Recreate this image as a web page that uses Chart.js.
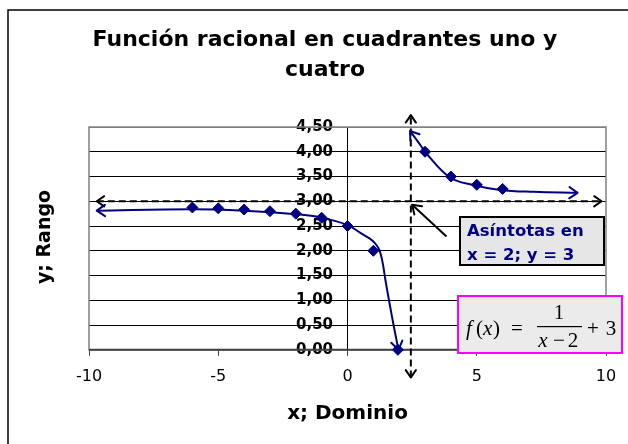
<!DOCTYPE html>
<html>
<head>
<meta charset="utf-8">
<title>Función racional en cuadrantes uno y cuatro</title>
<script src="https://cdn.jsdelivr.net/npm/chart.js@4.4.1/dist/chart.umd.min.js"></script>
<style>
  html, body { margin: 0; padding: 0; background: #fff; }
  #wrap { width: 628px; height: 444px; }
</style>
</head>
<body>
<div id="wrap"><canvas id="grafica"></canvas></div>
<script>
// puntos de f(x) = 1/(x-2) + 3
var puntosX = [-6, -5, -4, -3, -2, -1, 0, 1, 1.95, 3, 4, 5, 6];
var puntosY = [2.875, 2.857, 2.833, 2.8, 2.75, 2.667, 2.5, 2, 0, 4, 3.5, 3.333, 3.25];

// curvas dibujadas a mano (rama izquierda y derecha)
var ramaIzqX = [-9.7, -6, -4, -2, -1, 0, 0.5, 0.85, 1.05, 1.2, 1.3, 1.38, 1.47, 1.64, 1.8, 1.97];
var ramaIzqY = [2.81, 2.84, 2.81, 2.74, 2.67, 2.52, 2.36, 2.25, 2.16, 2.05, 1.9, 1.7, 1.4, 0.9, 0.45, 0];
var ramaDerX = [2.42, 2.8, 3.06, 3.97, 4.86, 5.9, 7.2, 8.9];
var ramaDerY = [4.42, 4.15, 3.96, 3.48, 3.33, 3.23, 3.19, 3.17];

// asintotas
var asintotaHX = [-9.7, 9.83];
var asintotaHY = [3, 3];
var asintotaVX = [2.45, 2.45];
var asintotaVY = [-0.56, 4.74];

// flecha que sale del cuadro de texto
var flechaX = [3.83, 2.5];
var flechaY = [2.29, 2.93];

var ejeXMin = -10, ejeXMax = 10, ejeXPaso = 5;
var ejeYMin = 0, ejeYMax = 4.5, ejeYPaso = 0.5;
var ejeYRotulosEn = -0.56;   // los rotulos del eje y quedan a la izquierda de x = 0

function pares(xs, ys) {
  return xs.map(function (x, i) { return { x: x, y: ys[i] }; });
}

var azul = '#000080';
var dejavu = '"DejaVu Sans", Verdana, sans-serif';

function chevron(ctx, tx, ty, fx, fy, len, color, width) {
  var ang = Math.atan2(ty - fy, tx - fx);
  var ab = 0.6;
  ctx.save();
  ctx.setLineDash([]);
  ctx.strokeStyle = color;
  ctx.lineWidth = width;
  ctx.lineCap = 'round';
  ctx.lineJoin = 'round';
  ctx.beginPath();
  ctx.moveTo(tx - len * Math.cos(ang - ab), ty - len * Math.sin(ang - ab));
  ctx.lineTo(tx, ty);
  ctx.lineTo(tx - len * Math.cos(ang + ab), ty - len * Math.sin(ang + ab));
  ctx.stroke();
  ctx.restore();
}

var fondo = {
  id: 'fondo',
  beforeDraw: function (chart) {
    var ctx = chart.ctx;
    ctx.save();
    ctx.fillStyle = '#fff';
    ctx.fillRect(0, 0, chart.width, chart.height);
    ctx.strokeStyle = '#000';
    ctx.lineWidth = 1.5;
    ctx.beginPath();
    ctx.moveTo(8, chart.height + 2);
    ctx.lineTo(8, 10);
    ctx.lineTo(chart.width + 2, 10);
    ctx.stroke();
    ctx.restore();
  },
  beforeDatasetsDraw: function (chart) {
    var a = chart.chartArea, ctx = chart.ctx;
    ctx.save();
    ctx.strokeStyle = '#808080';
    ctx.lineWidth = 1.5;
    ctx.strokeRect(a.left, a.top, a.right - a.left, a.bottom - a.top);
    ctx.strokeStyle = '#404040';
    ctx.lineWidth = 2;
    ctx.beginPath();
    ctx.moveTo(a.left, a.bottom);
    ctx.lineTo(a.right, a.bottom);
    ctx.stroke();
    ctx.restore();
  }
};

var flechas = {
  id: 'flechas',
  afterDatasetsDraw: function (chart) {
    var ctx = chart.ctx;
    chart.data.datasets.forEach(function (ds, i) {
      if (!ds.flechas) return;
      var pts = chart.getDatasetMeta(i).data;
      var n = pts.length;
      var color = ds.borderColor, w = ds.borderWidth;
      if (ds.flechas.indexOf('inicio') >= 0) {
        var p0 = pts[0], r0 = pts[1];
        if (p0.cp2x !== undefined && (Math.abs(p0.cp2x - p0.x) + Math.abs(p0.cp2y - p0.y)) > 0.5) {
          r0 = { x: p0.cp2x, y: p0.cp2y };
        }
        chevron(ctx, p0.x, p0.y, r0.x, r0.y, ds.largo || 9, color, w);
      }
      if (ds.flechas.indexOf('fin') >= 0) {
        var p1 = pts[n - 1], r1 = pts[n - 2];
        if (p1.cp1x !== undefined && (Math.abs(p1.cp1x - p1.x) + Math.abs(p1.cp1y - p1.y)) > 0.5) {
          r1 = { x: p1.cp1x, y: p1.cp1y };
        }
        chevron(ctx, p1.x, p1.y, r1.x, r1.y, ds.largo || 9, color, w);
      }
    });
  }
};

var rotulos = {
  id: 'rotulos',
  afterDraw: function (chart) {
    var ctx = chart.ctx;
    ctx.save();
    // titulo eje y
    ctx.fillStyle = '#000';
    ctx.font = 'bold 19px ' + dejavu;
    ctx.textAlign = 'center';
    ctx.textBaseline = 'middle';
    ctx.translate(45, 237);
    ctx.rotate(-Math.PI / 2);
    ctx.fillText('y; Rango', 0, 0);
    ctx.restore();

    // cuadro de asintotas
    ctx.save();
    ctx.fillStyle = '#e6e6e6';
    ctx.fillRect(460, 217, 144, 48);
    ctx.strokeStyle = '#000';
    ctx.lineWidth = 2;
    ctx.strokeRect(460, 217, 144, 48);
    ctx.fillStyle = azul;
    ctx.font = 'bold 16.5px ' + dejavu;
    ctx.textAlign = 'left';
    ctx.textBaseline = 'alphabetic';
    ctx.fillText('Asíntotas en', 467, 236);
    ctx.fillText('x = 2; y = 3', 467, 260);
    ctx.restore();

    // cuadro de la funcion
    ctx.save();
    ctx.fillStyle = '#ebebeb';
    ctx.fillRect(458, 296, 164, 57);
    ctx.strokeStyle = '#ff00ff';
    ctx.lineWidth = 2;
    ctx.strokeRect(458, 296, 164, 57);
    ctx.fillStyle = '#000';
    ctx.textBaseline = 'alphabetic';
    var serif = '"Liberation Serif", "Times New Roman", serif';
    var it = 'italic 21px ' + serif, rec = '21px ' + serif;
    ctx.textAlign = 'left';
    ctx.font = it; ctx.fillText('f', 466, 335);
    ctx.font = rec; ctx.fillText('(', 476, 335);
    ctx.font = it; ctx.fillText('x', 483, 335);
    ctx.font = rec; ctx.fillText(')', 493, 335);
    ctx.fillText('=', 511, 335);
    ctx.textAlign = 'center';
    ctx.fillText('1', 559, 319);
    ctx.font = it; ctx.fillText('x', 543, 347);
    ctx.font = rec; ctx.fillText('\u2212', 559, 347);
    ctx.fillText('2', 573, 347);
    ctx.fillText('+', 593, 335);
    ctx.fillText('3', 611, 335);
    ctx.fillRect(537, 326, 45, 1.2);
    ctx.restore();
  }
};

new Chart(document.getElementById('grafica'), {
  type: 'scatter',
  data: {
    datasets: [
      {
        data: pares(asintotaHX, asintotaHY), showLine: true, borderColor: '#000', borderWidth: 2,
        borderDash: [7, 4], pointRadius: 0, flechas: ['inicio', 'fin'], largo: 9, clip: false
      },
      {
        data: pares(asintotaVX, asintotaVY), showLine: true, borderColor: '#000', borderWidth: 2,
        borderDash: [7, 4], pointRadius: 0, flechas: ['inicio', 'fin'], largo: 9, clip: false
      },
      {
        data: pares(flechaX, flechaY), showLine: true, borderColor: '#000', borderWidth: 2,
        pointRadius: 0, flechas: ['fin'], largo: 10, clip: false
      },
      {
        data: pares(ramaIzqX, ramaIzqY), showLine: true, borderColor: azul, borderWidth: 2,
        tension: 0.4, pointRadius: 0, flechas: ['inicio', 'fin'], largo: 10, clip: false
      },
      {
        data: pares(ramaDerX, ramaDerY), showLine: true, borderColor: azul, borderWidth: 2,
        tension: 0.4, pointRadius: 0, flechas: ['inicio', 'fin'], largo: 10, clip: false
      },
      {
        data: pares(puntosX, puntosY), showLine: false, pointStyle: 'rectRot', pointRadius: 5.5,
        backgroundColor: azul, borderColor: azul, borderWidth: 1, clip: false
      }
    ]
  },
  options: {
    responsive: true,
    maintainAspectRatio: false,
    animation: false,
    layout: { padding: { left: 44, right: 22, top: 10, bottom: 18 } },
    plugins: {
      legend: { display: false },
      tooltip: { enabled: false },
      title: {
        display: true,
        text: ['Función racional en cuadrantes uno y', 'cuatro'],
        color: '#000',
        font: { family: dejavu, size: 22, weight: 'bold', lineHeight: 1.364 },
        padding: { top: 15, bottom: 42 }
      }
    },
    scales: {
      x: {
        type: 'linear',
        position: 'bottom',
        min: ejeXMin, max: ejeXMax,
        ticks: {
          stepSize: ejeXPaso, color: '#000', padding: 11,
          font: { family: dejavu, size: 16 }
        },
        grid: {
          drawOnChartArea: true, tickLength: 6, lineWidth: 1,
          color: function (c) { return c.tick && c.tick.value === 0 ? '#000' : 'rgba(0,0,0,0)'; },
          tickColor: '#404040'
        },
        border: { display: false },
        title: {
          display: true, text: 'x; Dominio', color: '#000',
          font: { family: dejavu, size: 20, weight: 'bold' },
          padding: { top: 5, bottom: 0 }
        }
      },
      y: {
        type: 'linear',
        position: { x: ejeYRotulosEn },
        min: ejeYMin, max: ejeYMax,
        ticks: {
          stepSize: ejeYPaso, color: '#000', padding: 0,
          font: { family: dejavu, size: 15, weight: 'bold' },
          callback: function (v) { return v.toFixed(2).replace('.', ','); }
        },
        grid: {
          drawTicks: false,
          color: function (c) { return c.tick && c.tick.value === ejeYMax ? '#808080' : '#000'; },
          lineWidth: 1
        },
        border: { display: false }
      },
      // franja vacia a la izquierda donde va el rotulo "y; Rango"
      margen: {
        type: 'linear',
        position: 'left',
        display: true,
        ticks: { display: false },
        grid: { display: false },
        border: { display: false },
        afterFit: function (s) { s.width = 45; }
      }
    }
  },
  plugins: [fondo, flechas, rotulos]
});
</script>
</body>
</html>
